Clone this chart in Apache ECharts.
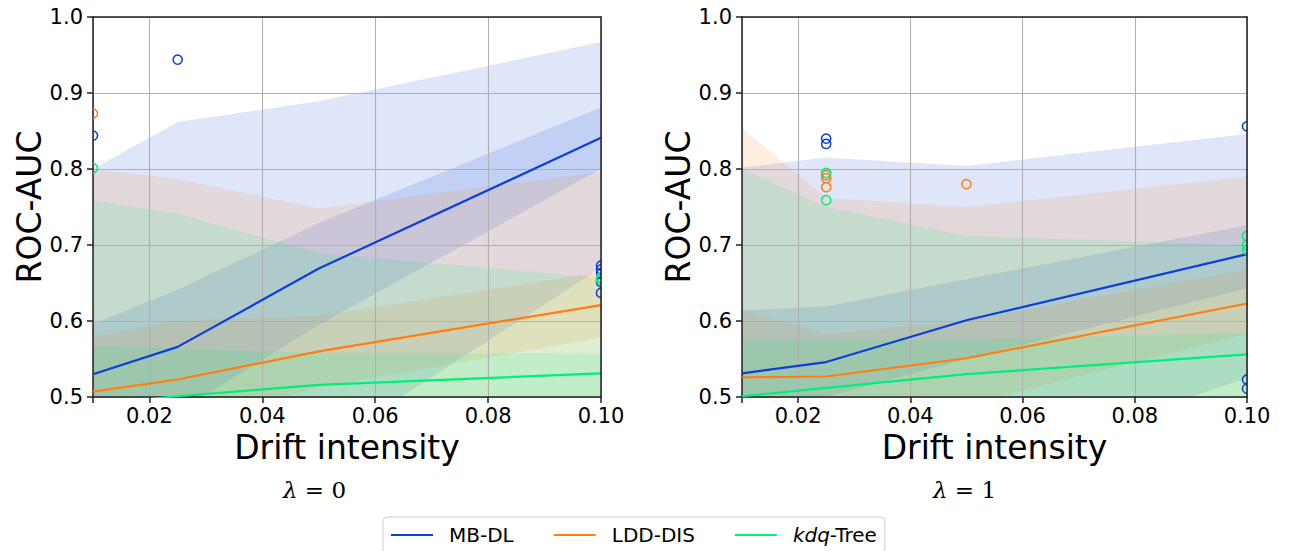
<!DOCTYPE html>
<html><head><meta charset="utf-8">
<script src="https://cdn.jsdelivr.net/npm/echarts@6/dist/echarts.min.js"></script>
<style>html,body{margin:0;padding:0;background:#fff}#c{width:1296px;height:551px}</style>
</head><body><div id="c"></div>
<script>
// ---------- data ----------
const xs = [0.01, 0.025, 0.05, 0.1];
const xTickLabels = ['0.02', '0.04', '0.06', '0.08', '0.10'];
const yTickLabels = ['0.5', '0.6', '0.7', '0.8', '0.9', '1.0'];
const seriesNames = ['MB-DL', 'LDD-DIS', 'kdq-Tree'];
const panelTitles = ['0', '1'];
const xTitle = 'Drift intensity';
const yTitle = 'ROC-AUC';

// panel λ = 0
const p0_mbdl_mean   = [0.530, 0.566, 0.669, 0.841];
const p0_mbdl_in_lo  = [0.440, 0.480, 0.595, 0.800];
const p0_mbdl_in_hi  = [0.596, 0.641, 0.729, 0.881];
const p0_mbdl_out_lo = [0.400, 0.400, 0.430, 0.670];
const p0_mbdl_out_hi = [0.800, 0.862, 0.889, 0.967];
const p0_ldd_mean    = [0.507, 0.523, 0.560, 0.621];
const p0_ldd_in_lo   = [0.450, 0.460, 0.513, 0.578];
const p0_ldd_in_hi   = [0.579, 0.600, 0.607, 0.664];
const p0_ldd_out_lo  = [0.400, 0.400, 0.420, 0.450];
const p0_ldd_out_hi  = [0.800, 0.787, 0.748, 0.796];
const p0_kdq_mean    = [0.490, 0.501, 0.516, 0.531];
const p0_kdq_in_lo   = [0.400, 0.420, 0.440, 0.460];
const p0_kdq_in_hi   = [0.566, 0.564, 0.558, 0.557];
const p0_kdq_out_lo  = [0.350, 0.380, 0.400, 0.420];
const p0_kdq_out_hi  = [0.759, 0.741, 0.689, 0.657];
const p0_mbdl_fliers_x = [0.025, 0.01, 0.1, 0.1, 0.1, 0.1, 0.1];
const p0_mbdl_fliers_y = [0.944, 0.844, 0.673, 0.668, 0.663, 0.651, 0.637];
const p0_ldd_fliers_x  = [0.01];
const p0_ldd_fliers_y  = [0.873];
const p0_kdq_fliers_x  = [0.01, 0.1, 0.1];
const p0_kdq_fliers_y  = [0.801, 0.657, 0.654];

// panel λ = 1
const p1_mbdl_mean   = [0.531, 0.546, 0.601, 0.688];
const p1_mbdl_in_lo  = [0.490, 0.500, 0.550, 0.643];
const p1_mbdl_in_hi  = [0.614, 0.619, 0.655, 0.726];
const p1_mbdl_out_lo = [0.400, 0.400, 0.400, 0.525];
const p1_mbdl_out_hi = [0.802, 0.815, 0.804, 0.846];
const p1_ldd_mean    = [0.526, 0.527, 0.551, 0.623];
const p1_ldd_in_lo   = [0.480, 0.480, 0.490, 0.583];
const p1_ldd_in_hi   = [0.614, 0.583, 0.600, 0.668];
const p1_ldd_out_lo  = [0.400, 0.420, 0.440, 0.480];
const p1_ldd_out_hi  = [0.854, 0.762, 0.750, 0.790];
const p1_kdq_mean    = [0.501, 0.512, 0.530, 0.556];
const p1_kdq_in_lo   = [0.440, 0.450, 0.470, 0.500];
const p1_kdq_in_hi   = [0.576, 0.575, 0.575, 0.585];
const p1_kdq_out_lo  = [0.400, 0.410, 0.430, 0.450];
const p1_kdq_out_hi  = [0.800, 0.750, 0.712, 0.700];
const p1_mbdl_fliers_x = [0.025, 0.025, 0.1, 0.1, 0.1];
const p1_mbdl_fliers_y = [0.840, 0.833, 0.856, 0.523, 0.511];
const p1_ldd_fliers_x  = [0.025, 0.025, 0.025, 0.05];
const p1_ldd_fliers_y  = [0.792, 0.788, 0.776, 0.780];
const p1_kdq_fliers_x  = [0.025, 0.025, 0.1, 0.1, 0.1];
const p1_kdq_fliers_y  = [0.795, 0.759, 0.712, 0.700, 0.694];

// ---------- style ----------
const colors = ['#0a3fd9', '#ff7f0e', '#00ee7a'];
const fills = ['rgba(10,63,217,0.13)', 'rgba(255,127,14,0.13)', 'rgba(0,238,122,0.13)'];
const FONT = 'DejaVu Sans';
const grids = [
  {left: 93, top: 17, width: 508, height: 380},
  {left: 742, top: 17, width: 505, height: 380}
];

const panels = [
  {
    mean: [p0_mbdl_mean, p0_ldd_mean, p0_kdq_mean],
    inLo: [p0_mbdl_in_lo, p0_ldd_in_lo, p0_kdq_in_lo],
    inHi: [p0_mbdl_in_hi, p0_ldd_in_hi, p0_kdq_in_hi],
    outLo: [p0_mbdl_out_lo, p0_ldd_out_lo, p0_kdq_out_lo],
    outHi: [p0_mbdl_out_hi, p0_ldd_out_hi, p0_kdq_out_hi],
    fx: [p0_mbdl_fliers_x, p0_ldd_fliers_x, p0_kdq_fliers_x],
    fy: [p0_mbdl_fliers_y, p0_ldd_fliers_y, p0_kdq_fliers_y]
  },
  {
    mean: [p1_mbdl_mean, p1_ldd_mean, p1_kdq_mean],
    inLo: [p1_mbdl_in_lo, p1_ldd_in_lo, p1_kdq_in_lo],
    inHi: [p1_mbdl_in_hi, p1_ldd_in_hi, p1_kdq_in_hi],
    outLo: [p1_mbdl_out_lo, p1_ldd_out_lo, p1_kdq_out_lo],
    outHi: [p1_mbdl_out_hi, p1_ldd_out_hi, p1_kdq_out_hi],
    fx: [p1_mbdl_fliers_x, p1_ldd_fliers_x, p1_kdq_fliers_x],
    fy: [p1_mbdl_fliers_y, p1_ldd_fliers_y, p1_kdq_fliers_y]
  }
];

const xAxes = [], yAxes = [], series = [];
grids.forEach((g, gi) => {
  xAxes.push({
    gridIndex: gi, type: 'value', min: 0.01, max: 0.1, splitNumber: 5, z: 1.5,
    axisLine: {show: true, onZero: false, lineStyle: {color: '#222', width: 1.5}},
    axisTick: {show: true, length: 6, lineStyle: {color: '#222', width: 1.5}},
    axisLabel: {fontSize: 21, color: '#000', fontFamily: FONT, margin: 8,
      formatter: v => { const k = Math.round(v / 0.02) - 1; return (v > 0.015 && k >= 0) ? xTickLabels[k] : ''; }},
    splitLine: {show: true, lineStyle: {color: '#b0b0b0', width: 1.1}},
    name: xTitle, nameLocation: 'middle', nameGap: 34,
    nameTextStyle: {fontSize: 33, color: '#000', fontFamily: FONT, verticalAlign: 'top'}
  });
  xAxes.push({
    gridIndex: gi, type: 'value', min: 0.01, max: 0.1, position: 'top', z: 5,
    axisLine: {show: true, onZero: false, lineStyle: {color: '#222', width: 1.5}},
    axisTick: {show: false}, axisLabel: {show: false}, splitLine: {show: false}
  });
  yAxes.push({
    gridIndex: gi, type: 'value', min: 0.5, max: 1.0, interval: 0.1, z: 1.5,
    axisLine: {show: true, onZero: false, lineStyle: {color: '#222', width: 1.5}},
    axisTick: {show: true, length: 6, lineStyle: {color: '#222', width: 1.5}},
    axisLabel: {fontSize: 21, color: '#000', fontFamily: FONT, margin: 10,
      formatter: v => yTickLabels[Math.round((v - 0.5) / 0.1)]},
    splitLine: {show: true, lineStyle: {color: '#b0b0b0', width: 1.1}},
    name: yTitle, nameLocation: 'middle', nameGap: 44, nameRotate: 90,
    nameTextStyle: {fontSize: 33, color: '#000', fontFamily: FONT}
  });
  yAxes.push({
    gridIndex: gi, type: 'value', min: 0.5, max: 1.0, position: 'right', z: 5,
    axisLine: {show: true, onZero: false, lineStyle: {color: '#222', width: 1.5}},
    axisTick: {show: false}, axisLabel: {show: false}, splitLine: {show: false}
  });

  const P = panels[gi];
  const xi = gi * 2, yi = gi * 2;
  // bands
  for (let s = 0; s < 3; s++) {
    [[P.outLo[s], P.outHi[s]], [P.inLo[s], P.inHi[s]]].forEach(([lo, hi]) => {
      series.push({
        type: 'custom', xAxisIndex: xi, yAxisIndex: yi, clip: true, z: 1, silent: true,
        data: xs.map((x, i) => [x, lo[i], hi[i]]),
        renderItem: (params, api) => {
          if (params.dataIndex !== 0) return null;
          const pts = [];
          for (let i = 0; i < xs.length; i++) pts.push(api.coord([xs[i], hi[i]]));
          for (let i = xs.length - 1; i >= 0; i--) pts.push(api.coord([xs[i], lo[i]]));
          return {type: 'polygon', shape: {points: pts}, style: {fill: fills[s], stroke: null}};
        }
      });
    });
  }
  // mean lines
  for (let s = 0; s < 3; s++) {
    series.push({
      type: 'line', name: seriesNames[s], xAxisIndex: xi, yAxisIndex: yi, z: 3,
      symbol: 'none', clip: true, color: colors[s],
      lineStyle: {color: colors[s], width: 2.2},
      data: xs.map((x, i) => [x, P.mean[s][i]])
    });
  }
  // fliers
  for (let s = 0; s < 3; s++) {
    series.push({
      type: 'custom', xAxisIndex: xi, yAxisIndex: yi, clip: true, z: 4, silent: true,
      data: P.fx[s].map((x, i) => [x, P.fy[s][i]]),
      renderItem: (params, api) => {
        const c = api.coord([api.value(0), api.value(1)]);
        return {type: 'circle', shape: {cx: c[0], cy: c[1], r: 4.6},
          style: {fill: 'none', stroke: colors[s], lineWidth: 1.5}};
      }
    });
  }
});

const option = {
  animation: false,
  backgroundColor: '#fff',
  grid: grids.map(g => Object.assign({containLabel: false}, g)),
  xAxis: xAxes,
  yAxis: yAxes,
  legend: {
    data: seriesNames.map(n => ({name: n, icon: 'rect'})),
    left: 383, top: 517, orient: 'horizontal',
    padding: [8, 8, 20, 8], itemWidth: 42, itemHeight: 2, itemGap: 40,
    backgroundColor: '#fff', borderColor: '#cccccc', borderWidth: 1, borderRadius: 4,
    textStyle: {fontSize: 20, color: '#000', fontFamily: FONT, padding: [0, 0, 0, 11], lineHeight: 20,
      rich: {
        i: {fontSize: 20, fontStyle: 'italic', fontFamily: FONT, color: '#000', lineHeight: 20},
        n: {fontSize: 20, fontFamily: FONT, color: '#000', lineHeight: 20}
      }},
    formatter: name => name === 'kdq-Tree' ? '{i|kdq}{n|-Tree}' : '{n|' + name + '}'
  },
  graphic: panelTitles.map((t, i) => ({
    type: 'text', left: [283, 933][i], top: 478, silent: true,
    style: {
      text: '{l|λ}{e| = ' + t + '}',
      rich: {
        l: {fontSize: 23, fontStyle: 'italic', fontFamily: 'DejaVu Serif', fill: '#000'},
        e: {fontSize: 23, fontFamily: 'DejaVu Serif', fill: '#000'}
      }
    }
  })),
  series: series
};

const chart = echarts.init(document.getElementById('c'), null, {renderer: 'svg'});
chart.setOption(option);
</script>
</body></html>
